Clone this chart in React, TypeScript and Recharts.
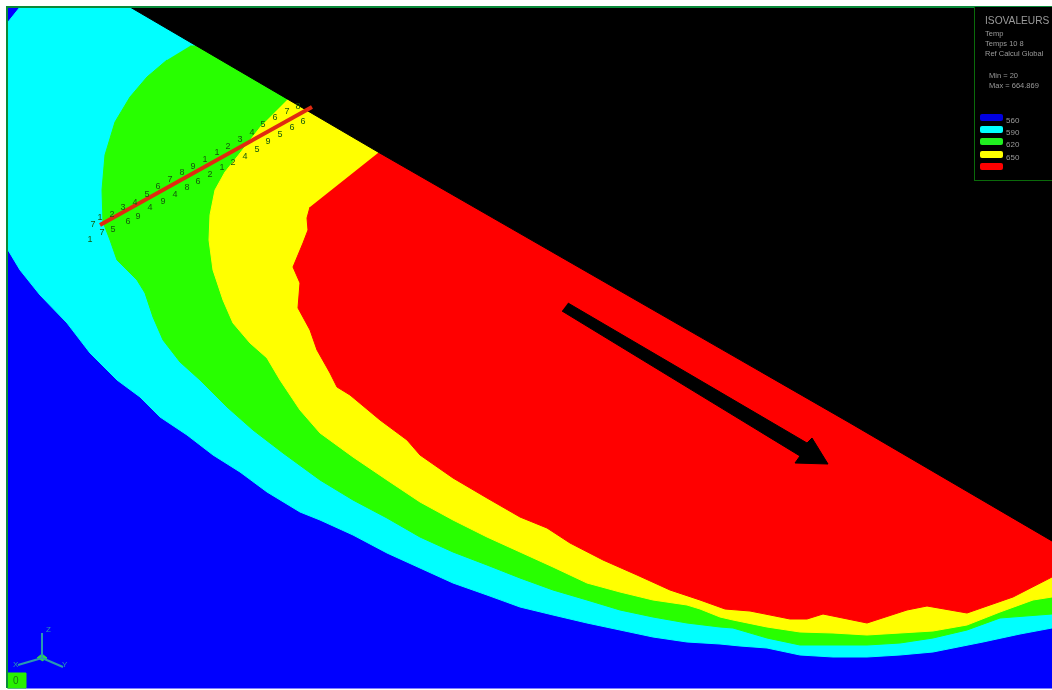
import React from "react";
import { ScatterChart, Scatter, XAxis, YAxis } from "recharts";

type Pt = { x: number; y: number };
type Node = Pt & { n: string };

const pts = (list: number[][]): Pt[] => list.map(([x, y]) => ({ x, y }));

// contour outlines, in picture units
const plate = pts([[8, 7], [1052, 7], [1052, 688], [8, 688]]);
const band590 = pts([
  [8, 22], [20, 7], [1052, 7], [1052, 628], [1020, 634], [983, 642], [933, 652], [900, 655], [867, 657], [833, 657],
  [800, 655], [767, 648], [740, 646], [720, 644], [687, 642], [653, 637], [620, 630], [587, 623], [553, 615], [520, 607],
  [487, 595], [453, 583], [420, 568], [387, 553], [353, 535], [320, 520], [300, 512], [267, 492], [240, 472], [213, 455],
  [187, 435], [160, 417], [140, 397], [117, 380], [90, 353], [67, 323], [40, 295], [20, 270], [8, 250],
]);
const band620 = pts([
  [190, 46], [1052, 46], [1052, 614], [1000, 618], [967, 630], [933, 638], [900, 643], [867, 645], [833, 645], [800, 645],
  [767, 638], [733, 628], [720, 627], [687, 623], [653, 617], [620, 610], [587, 600], [553, 590], [520, 578], [487, 565],
  [453, 552], [420, 537], [387, 518], [353, 500], [320, 480], [283, 453], [253, 430], [227, 407], [200, 380], [180, 362],
  [163, 340], [153, 317], [145, 293], [137, 280], [117, 260], [110, 240], [103, 222], [102, 190], [105, 155], [115, 122],
  [130, 97], [147, 77], [167, 60],
]);
const band650 = pts([
  [287, 100], [1052, 100], [1052, 597], [1033, 600], [1000, 612], [967, 625], [933, 631], [900, 633], [867, 635],
  [833, 633], [800, 632], [767, 627], [733, 620], [720, 617], [700, 609], [687, 605], [653, 600], [620, 592], [587, 583],
  [553, 567], [520, 552], [487, 537], [453, 520], [420, 502], [387, 480], [353, 457], [320, 433], [300, 410], [280, 380],
  [267, 358], [250, 343], [233, 323], [223, 300], [213, 270], [209, 240], [210, 215], [215, 190], [225, 172], [237, 157],
  [262, 125],
]);
const bandTop = pts([
  [378, 153], [1052, 153], [1052, 577], [1013, 597], [967, 613], [927, 606], [907, 610], [867, 623], [823, 614], [807, 619],
  [790, 619], [750, 611], [725, 609], [700, 600], [670, 590], [637, 575], [603, 560], [570, 543], [547, 528], [520, 517],
  [487, 498], [453, 478], [420, 455], [407, 440], [380, 420], [350, 395], [337, 387], [330, 373], [317, 350], [310, 330],
  [298, 308], [300, 283], [293, 267], [303, 243], [308, 230], [307, 218], [310, 207],
]);
const voidZone = pts([[130, 7], [378, 152], [850, 423], [1052, 541], [1052, 7]]);
const flowArrow = pts([
  [568, 303], [807, 443], [812, 438], [828, 464], [795, 463], [800, 456], [562, 311],
]);
const cutLine = pts([[100, 225], [312, 107]]);
const frameLine = pts([[7, 688], [7, 7], [1052, 7]]);
const triadUp = pts([[42, 658], [42, 633]]);
const triadLeft = pts([[42, 658], [18, 665]]);
const triadRight = pts([[42, 658], [63, 667]]);
const triadHub = pts([[37, 658], [42, 654], [47, 658], [42, 661]]);
const originBox = pts([[7, 673], [26, 673], [26, 688], [7, 688]]);

const nodeRows: number[][] = [
  [102, 233, 7], [90, 240, 1], [93, 225, 7], [100, 218, 1], [112, 215, 2], [123, 208, 3], [135, 203, 4], [147, 195, 5],
  [158, 187, 6], [170, 180, 7], [182, 173, 8], [193, 167, 9], [205, 160, 1], [217, 153, 1], [228, 147, 2], [240, 140, 3],
  [252, 133, 4], [263, 125, 5], [275, 118, 6], [287, 112, 7], [298, 107, 8], [113, 230, 5], [128, 222, 6], [138, 217, 9],
  [150, 208, 4], [163, 202, 9], [175, 195, 4], [187, 188, 8], [198, 182, 6], [210, 175, 2], [222, 168, 1], [233, 163, 2],
  [245, 157, 4], [257, 150, 5], [268, 142, 9], [280, 135, 5], [292, 128, 6], [303, 122, 6],
];
const nodes: Node[] = nodeRows.map(([x, y, n]) => ({ x, y, n: String(n) }));

const infoLines = ["Temp", "Temps 10 8", "Ref Calcul Global"];
const rangeLines = ["Min = 20", "Max = 664.869"];
const isoLevels = ["560", "590", "620", "650", ""];
const isoColors = ["#0000e0", "#00ffff", "#20f020", "#ffff00", "#ff0000"];
const swatchTops = [114, 126, 138, 151, 163];
const panelTexts = "#9a9a9a";

const areas: { data: Pt[]; color: string }[] = [
  { data: plate, color: "#0000ff" },
  { data: band590, color: "#00ffff" },
  { data: band620, color: "#28ff00" },
  { data: band650, color: "#ffff00" },
  { data: bandTop, color: "#ff0000" },
  { data: voidZone, color: "#000000" },
  { data: flowArrow, color: "#000000" },
  { data: originBox, color: "#28f000" },
];

const strokes: { data: Pt[]; color: string; width: number }[] = [
  { data: frameLine, color: "#0a8a3a", width: 2 },
  { data: triadUp, color: "#2a9ab0", width: 2 },
  { data: triadLeft, color: "#2a9ab0", width: 2 },
  { data: triadRight, color: "#2a9ab0", width: 2 },
  { data: cutLine, color: "#e02a10", width: 4 },
];

const NoDot = () => null;

const NodeLabel = (props: any) => (
  <text x={props.cx} y={props.cy} fontSize={9} fontFamily="Liberation Sans" fill="#14590c" textAnchor="middle" dominantBaseline="middle">
    {props.payload.n}
  </text>
);

const textAt = (left: number, top: number, size: number, s: string) => (
  <div key={s + top} style={{ position: "absolute", left, top, fontSize: size, lineHeight: 1, color: panelTexts, whiteSpace: "nowrap" }}>
    {s}
  </div>
);

const IsoPanel = () => (
  <div style={{ position: "absolute", left: 974, top: 7, width: 78, height: 174, boxSizing: "border-box", background: "#000", borderLeft: "1px solid #0a6a0a", borderBottom: "1px solid #0a6a0a", overflow: "hidden", fontFamily: "Liberation Sans" }}>
    {textAt(10, 9, 10.2, "ISOVALEURS")}
    {infoLines.map((s, i) => textAt(10, 23 + i * 10, 7.5, s))}
    {rangeLines.map((s, i) => textAt(14, 65 + i * 10, 7.5, s))}
    {isoLevels.map((s, i) => (
      <React.Fragment key={i}>
        <div style={{ position: "absolute", left: 5, top: swatchTops[i] - 7, width: 23, height: 7, borderRadius: 2, background: isoColors[i] }} />
        {s ? textAt(31, swatchTops[i] - 4, 8, s) : null}
      </React.Fragment>
    ))}
  </div>
);

export default function App() {
  return (
    <div style={{ position: "fixed", left: 0, top: 0, width: 1052, height: 690, background: "#fff", filter: "blur(0.5px)" }}>
      <ScatterChart width={1052} height={690} margin={{ top: 0, right: 0, bottom: 0, left: 0 }}>
        <XAxis type="number" dataKey="x" domain={[0, 1052]} hide allowDataOverflow />
        <YAxis type="number" dataKey="y" domain={[0, 690]} reversed hide allowDataOverflow />
        {areas.map((a, i) => (
          <Scatter
            key={i}
            data={a.data}
            isAnimationActive={false}
            shape={NoDot}
            line={{ fill: a.color, stroke: a.color, strokeWidth: 1 }}
          />
        ))}
        <Scatter data={triadHub} isAnimationActive={false} shape={NoDot} line={{ fill: "#30e040", stroke: "#30e040" }} />
        {strokes.map((s, i) => (
          <Scatter
            key={i}
            data={s.data}
            isAnimationActive={false}
            shape={NoDot}
            line={{ fill: "none", stroke: s.color, strokeWidth: s.width }}
          />
        ))}
        <Scatter data={nodes} isAnimationActive={false} shape={NodeLabel} />
      </ScatterChart>
      <IsoPanel />
      <div style={{ position: "absolute", left: 46, top: 625, fontSize: 8, fontFamily: "Liberation Sans", color: "#2a9ab0" }}>Z</div>
      <div style={{ position: "absolute", left: 13, top: 660, fontSize: 8, fontFamily: "Liberation Sans", color: "#2a9ab0" }}>X</div>
      <div style={{ position: "absolute", left: 62, top: 660, fontSize: 8, fontFamily: "Liberation Sans", color: "#2a9ab0" }}>Y</div>
      <div style={{ position: "absolute", left: 13, top: 675, fontSize: 10, fontFamily: "Liberation Sans", color: "#157a10" }}>0</div>
    </div>
  );
}
